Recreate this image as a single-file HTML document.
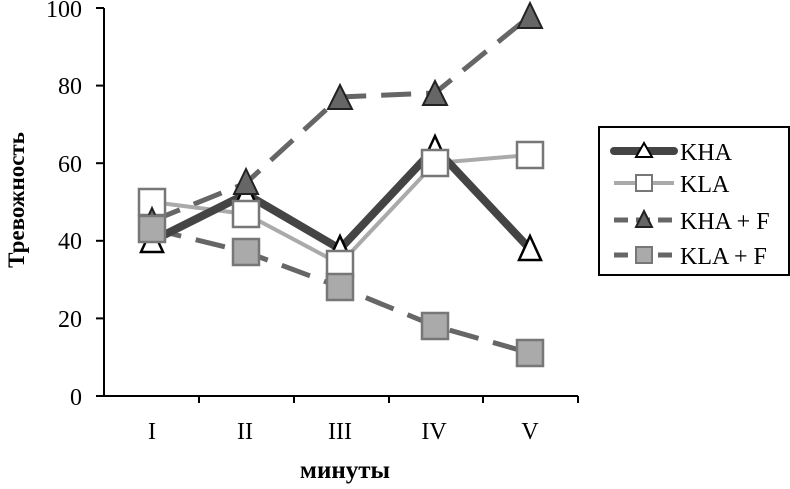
<!DOCTYPE html>
<html><head><meta charset="utf-8"><style>body{margin:0;background:#fff}</style></head><body>
<svg width="790" height="484" xmlns="http://www.w3.org/2000/svg" font-family="Liberation Serif, serif">
<rect width="790" height="484" fill="#fff"/>
<g stroke="#000" stroke-width="2">
<line x1="104" y1="8" x2="104" y2="396"/>
<line x1="104" y1="396" x2="578" y2="396"/>
<line x1="96" y1="8" x2="104" y2="8"/><line x1="96" y1="85.6" x2="104" y2="85.6"/><line x1="96" y1="163.2" x2="104" y2="163.2"/><line x1="96" y1="240.8" x2="104" y2="240.8"/><line x1="96" y1="318.4" x2="104" y2="318.4"/><line x1="96" y1="396" x2="104" y2="396"/>
<line x1="199" y1="396" x2="199" y2="403"/><line x1="294" y1="396" x2="294" y2="403"/><line x1="389" y1="396" x2="389" y2="403"/><line x1="483" y1="396" x2="483" y2="403"/><line x1="578" y1="396" x2="578" y2="403"/>
</g>
<g font-size="24" text-anchor="end" fill="#000">
<text x="82" y="17">100</text><text x="82" y="94">80</text><text x="82" y="172">60</text><text x="82" y="249">40</text><text x="82" y="327">20</text><text x="82" y="405">0</text>
</g>
<g font-size="24" text-anchor="middle">
<text x="152" y="439">I</text><text x="245" y="439">II</text><text x="340" y="439">III</text><text x="434" y="439">IV</text><text x="530" y="439">V</text>
</g>
<text x="345" y="478" font-size="25" font-weight="bold" text-anchor="middle">минуты</text>
<text transform="translate(24,200) rotate(-90)" font-size="23" font-weight="bold" text-anchor="middle">Тревожность</text>
<polyline points="152,229 246,252 340,287 435,326 530,353" fill="none" stroke="#666" stroke-width="5" stroke-dasharray="30,15"/>
<polyline points="152,221 246,183 340,97 435,93 530,16" fill="none" stroke="#666" stroke-width="5" stroke-dasharray="30,15"/>
<polyline points="152,202 246,214 340,264 435,163 530,155" fill="none" stroke="#aaa" stroke-width="4"/>
<polyline points="152,241 246,194 340,249 435,148 530,249" fill="none" stroke="#444" stroke-width="8"/>
<g stroke="#000" stroke-width="2.5" fill="#fff">
<polygon points="152,228 141,252 163,252"/><polygon points="246,182 235,206 257,206"/><polygon points="340,236 329,260 351,260"/><polygon points="435,136 424,160 446,160"/><polygon points="530,236 519,260 541,260"/>
</g>
<g stroke="#777" stroke-width="2.5" fill="#fff">
<rect x="139" y="189" width="26" height="26"/><rect x="233" y="201" width="26" height="26"/><rect x="327" y="251" width="26" height="26"/><rect x="422" y="150" width="26" height="26"/><rect x="517" y="142" width="26" height="26"/>
</g>
<g stroke="#222" stroke-width="2" fill="#666">
<polygon points="152,208 141,232 163,232"/><polygon points="246,169 234,194 258,194"/><polygon points="340,85 328,109 352,109"/><polygon points="435,81 423,105 447,105"/><polygon points="530,3 518,28 542,28"/>
</g>
<g stroke="#777" stroke-width="2.5" fill="#aaa">
<rect x="139" y="216" width="26" height="26"/><rect x="233" y="239" width="26" height="26"/><rect x="327" y="274" width="26" height="26"/><rect x="422" y="313" width="26" height="26"/><rect x="517" y="340" width="26" height="26"/>
</g>
<rect x="599" y="127" width="190" height="148" fill="#fff" stroke="#000" stroke-width="2"/>
<line x1="614" y1="151" x2="674" y2="151" stroke="#444" stroke-width="8" stroke-linecap="round"/>
<polygon points="644,143 636,157 652,157" fill="#fff" stroke="#000" stroke-width="2"/>
<line x1="614" y1="183" x2="674" y2="183" stroke="#aaa" stroke-width="4"/>
<rect x="636" y="175" width="16" height="16" fill="#fff" stroke="#777" stroke-width="2"/>
<line x1="614" y1="220" x2="674" y2="220" stroke="#666" stroke-width="5" stroke-dasharray="14,8"/>
<polygon points="644,211 636,227 652,227" fill="#666" stroke="#222" stroke-width="2"/>
<line x1="614" y1="255" x2="674" y2="255" stroke="#666" stroke-width="5" stroke-dasharray="14,8"/>
<rect x="636" y="247" width="16" height="16" fill="#aaa" stroke="#777" stroke-width="2"/>
<g font-size="24">
<text x="680" y="160">KHA</text><text x="680" y="192">KLA</text><text x="680" y="229">KHA + F</text><text x="680" y="264">KLA + F</text>
</g>
</svg>
</body></html>
